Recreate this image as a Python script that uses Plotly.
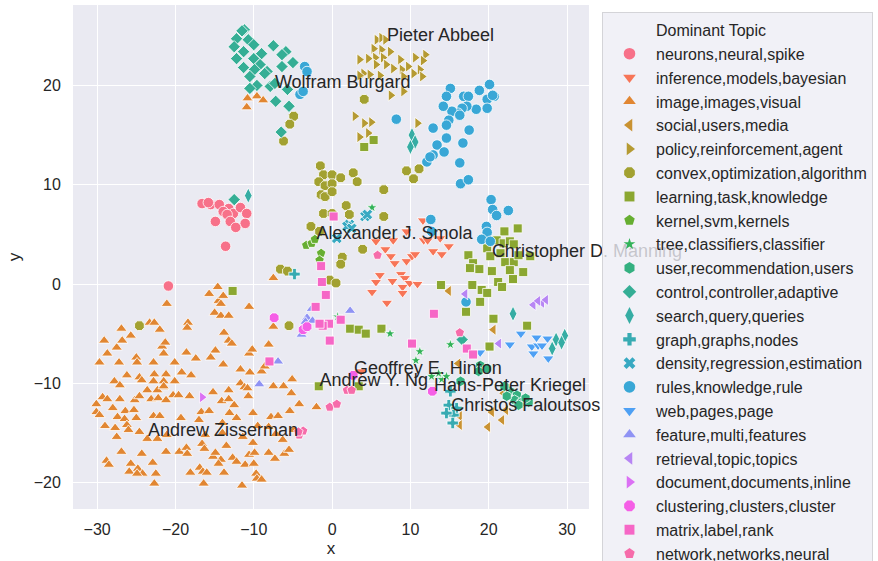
import math
import plotly.graph_objects as go

# ---------------- data ----------------
topics = ["neurons,neural,spike", "inference,models,bayesian", "image,images,visual",
          "social,users,media", "policy,reinforcement,agent", "convex,optimization,algorithm",
          "learning,task,knowledge", "kernel,svm,kernels", "tree,classifiers,classifier",
          "user,recommendation,users", "control,controller,adaptive", "search,query,queries",
          "graph,graphs,nodes", "density,regression,estimation", "rules,knowledge,rule",
          "web,pages,page", "feature,multi,features", "retrieval,topic,topics",
          "document,documents,inline", "clustering,clusters,cluster", "matrix,label,rank",
          "network,networks,neural"]

neurons_x = [-16.6, -15.5, -14.4, -13.2, -13.9, -12.6, -13.4, -11.7, -10.9, -14.9, -13.0, -11.1, -12.3, -13.6, -20.9, -15.8]
neurons_y = [8.1, 8.0, 8.0, 7.6, 7.3, 7.1, 7.0, 7.7, 7.1, 6.3, 6.3, 6.1, 5.7, 3.8, -0.2, 8.2]

inference_x = [11.6, 9.5, 11.7, 12.2, 13.8, 12.9, 5.6, 7.8, 6.8, 7.5, 8.0, 9.5, 10.2, 10.6, 12.9, 14.0, 14.9, 6.1, 5.6, 5.1, 7.7, 8.8, 9.3, 9.0, 9.0, 9.9, 10.9, 7.0, 3.7]
inference_y = [6.4, 5.3, 4.4, 4.4, 4.6, 5.1, 4.3, 4.4, 3.5, 2.8, 2.1, 2.3, 2.8, 3.0, 3.3, 3.0, 3.8, 0.9, 0.2, -0.8, 0.3, 1.0, 0.6, -0.3, -0.9, 0.1, 0.0, -1.9, -8.8]

image_x = [-21.1, -14.5, -14.2, -15.0, -14.2, -13.2, -10.6, -26.9, -29.1, -28.7, -29.7, -27.5, -26.8, -25.7,
           -23.3, -22.7, -22.0, -25.0, -24.9, -27.2, -22.8, -21.7, -21.3, -21.5, -20.1, -18.6, -18.4, -18.5,
           -17.4, -14.9, -15.5, -13.9, -13.8, -13.2, -12.8, -10.6, -10.2, -8.1, -11.7, -10.5, -9.0, -8.6,
           -26.2, -27.8, -27.1, -24.6, -24.3, -22.7, -22.8, -21.2, -21.5, -20.1, -21.6, -19.2, -18.0,
           -23.6, -22.3, -21.5, -20.3, -19.6, -18.2, -15.2, -13.2, -11.7, -11.2, -10.8, -10.7, -7.5, -6.2,
           -5.1, -5.2, -29.3, -28.7, -27.1, -25.2, -24.6, -23.1, -22.2, -21.2, -14.1, -13.2, -12.5,
           -30.1, -30.1, -29.7, -28.0, -26.4, -25.3, -25.0, -27.4, -26.5, -29.0, -27.7, -26.2, -22.8, -22.0,
           -19.3, -17.0, -16.7, -15.7, -14.0, -13.1, -12.2, -10.1, -7.8, -6.9, -5.4, -4.2, -2.0,
           -27.5, -26.0, -24.6, -23.6, -22.3, -21.1, -16.2, -16.6, -14.0, -11.4, -10.1, -9.5, -8.1, -6.3,
           -7.2, -4.9, -26.9, -24.3, -21.2, -19.5, -18.6, -18.5, -16.3, -15.2, -14.9, -13.5, -12.7, -14.2,
           -14.5, -12.2, -11.1, -10.6, -10.0, -9.9, -8.1, -6.1, -5.5, -7.3, -28.8, -28.5, -25.7, -24.8,
           -24.2, -22.9, -25.9, -24.9, -22.5, -18.1, -16.9, -16.5, -16.0, -13.8, -9.7, -9.6, -9.0, -22.7,
           -16.4, -11.5, -14.6, -15.7, -13.9, -7.5, -7.5, -10.8, -9.6, -8.8, -10.9]
image_y = [-2.0, -1.7, -2.0, -2.9, -3.2, -3.2, -2.3, -4.5, -5.7, -7.0, -7.9, -6.4, -5.7, -5.2,
           -3.9, -3.9, -4.6, -7.4, -7.9, -7.9, -7.9, -6.3, -5.9, -7.0, -7.9, -6.9, -3.9, -4.4,
           -7.5, -6.7, -7.4, -8.1, -4.9, -5.7, -6.0, -7.0, -6.6, -6.1, -8.6, -8.9, -8.8, -8.3,
           -9.2, -9.8, -10.2, -9.4, -9.7, -9.1, -9.8, -9.1, -9.8, -9.8, -10.4, -8.9, -9.2,
           -10.7, -10.7, -10.3, -11.2, -11.2, -11.3, -10.9, -10.7, -10.0, -10.4, -10.5, -11.3, -10.3, -10.3,
           -9.6, -11.0, -11.4, -11.6, -11.6, -11.7, -11.3, -11.6, -11.5, -11.7, -11.8, -11.6, -12.2,
           -12.1, -12.9, -13.2, -12.5, -12.8, -12.7, -13.5, -13.4, -13.6, -14.3, -14.5, -14.2, -13.3, -13.3,
           -13.5, -13.7, -12.9, -12.8, -14.0, -13.0, -13.5, -13.0, -13.4, -13.3, -12.8, -12.1, -12.4,
           -15.4, -14.7, -14.9, -15.6, -15.6, -15.2, -15.2, -16.1, -15.0, -15.4, -16.0, -14.3, -14.4, -15.7,
           -15.1, -14.7, -16.9, -17.1, -16.9, -16.9, -16.5, -17.1, -16.6, -17.4, -17.0, -16.3, -17.5, -17.7,
           -18.1, -17.9, -18.2, -17.2, -18.1, -17.0, -17.0, -17.1, -16.7, -17.6, -17.8, -18.2, -18.1, -18.6,
           -19.1, -18.0, -18.9, -19.1, -19.1, -19.0, -18.5, -18.9, -19.0, -19.0, -19.1, -19.6, -19.7, -20.1,
           -20.1, -20.3, -0.3, -1.0, -1.2, 0.6, -4.3, 18.7, 18.9, 18.5, 17.8]

social_x = [14.9, 20.6, 16.1, 21.9, 20.4, 21.7, 22.2, 19.9, 16.3, 16.3]
social_y = [-0.7, -4.6, -8.0, -11.0, -12.9, -13.7, -12.7, -14.4, -13.3, -14.2]

policy_x = [5.7, 6.3, 6.8, 5.3, 6.3, 7.4, 3.5, 4.6, 5.5, 6.5, 5.6, 6.9, 8.7, 10.6, 11.9, 11.6, 4.0, 3.5,
            4.8, 6.1, 7.8, 8.9, 9.7, 10.4, 11.2, 11.5, 9.1, 7.5, 9.1, 2.9, 4.1, 5.0, 3.5, 4.6, 10.9]
policy_y = [24.6, 24.8, 24.6, 23.7, 23.6, 23.4, 22.6, 22.7, 22.8, 22.8, 22.1, 22.1, 22.6, 22.8, 23.1, 22.5, 21.2, 21.0,
            21.1, 21.0, 21.7, 21.6, 21.9, 21.2, 21.6, 20.9, 20.9, 19.0, 19.4, 16.9, 16.2, 16.3, 14.8, 15.2, 16.2]

convex_x = [-1.5, -1.1, 0.0, 1.1, 2.7, 3.2, -1.7, -0.9, 0.0, -1.4, -0.9, 0.0, 1.8, 2.2, -1.1, 0.0, -2.7, -1.6,
            1.3, 1.1, -6.6, -5.7, -0.3, 0.5, 6.6, 6.6, 9.5, 11.1, 10.4, 3.9, -5.5, 4.1, -4.9, -5.4, -6.2, -24.6]
convex_y = [11.9, 11.0, 11.0, 10.7, 11.2, 10.3, 10.3, 9.9, 10.1, 9.0, 8.8, 9.3, 7.9, 7.0, 7.1, 7.1, 5.8, 5.3,
            2.7, 2.0, 1.5, 1.3, 0.4, 0.1, 9.5, 6.8, 11.4, 11.6, 10.6, 3.5, -4.2, 18.6, 16.9, 16.1, 14.4, -4.2]

learning_x = [22.0, 23.7, 21.0, 21.9, 22.7, 23.2, 19.8, 20.2, 21.5, 22.1, 23.2, 23.8, 25.3, 17.4, 18.0, 17.6,
              18.8, 20.4, 22.7, 24.4, 23.1, 21.2, 21.7, 13.9, 17.9, 19.1, 19.8, 18.9, 17.1, 20.6, 24.9, 2.3,
              3.4, 4.3, 6.3, 20.1, -1.7, 3.4, -12.7, 5.3, 4.1]
learning_y = [5.3, 5.6, 4.4, 4.1, 4.3, 4.0, 3.6, 2.8, 3.1, 2.2, 2.2, 2.9, 2.8, 2.9, 2.1, 1.6,
              1.5, 1.3, 1.4, 1.2, 0.5, 0.2, -0.3, -0.1, -0.1, -0.6, -0.9, -1.8, -2.8, -3.5, -4.2, -4.5,
              -4.6, -5.0, -4.5, -6.3, -10.3, -10.3, -0.7, 14.5, 13.8]

kernel_x = [-3.3, -2.6, -2.2, -1.4, -1.6]
kernel_y = [3.9, 4.1, 4.5, 3.1, 2.4]

tree_x = [5.1, 0.7, 7.4, 11.2, 10.7, 15.1, 12.7, 14.0, 14.6, 13.6]
tree_y = [7.7, -3.3, -5.0, -6.8, -7.7, -6.1, -9.3, -9.6, -9.3, -9.0]

user_x = [18.9, 19.8, 18.7, 16.4, 22.7, 23.6, 23.3, 24.2, 25.1, 23.8, 22.3, 22.0, 24.7]
user_y = [-8.2, -8.5, -8.8, -9.8, -10.8, -11.2, -11.7, -11.9, -11.9, -12.2, -11.3, -10.3, -11.5]

control_x = [-11.2, -11.5, -12.2, -10.7, -12.5, -11.3, -10.0, -9.0, -7.5, -5.9, -6.4, -10.0, -9.2, -8.3, -12.2,
             -11.3, -9.9, -8.6, -6.4, -5.0, -10.5, -9.6, -10.5, -7.9, -7.3, -5.7, -7.2, -5.5, -6.5, -12.5, 16.6]
control_y = [25.6, 25.5, 24.7, 24.6, 23.9, 23.4, 24.1, 23.2, 24.0, 23.4, 23.1, 22.7, 22.1, 21.4, 22.7,
             21.8, 21.6, 21.2, 21.9, 22.3, 20.9, 20.0, 19.7, 19.9, 20.2, 19.6, 18.4, 17.9, 15.3, 8.5, -5.6]

search_x = [-10.7, 10.2, 10.6, 10.0, 23.1, 28.6, 29.7, 29.3, 28.1]
search_y = [8.9, 15.0, 14.3, 13.8, -3.0, -5.6, -5.2, -5.9, -6.5]

graph_x = [-4.8, 15.1, 14.9, 15.9, 15.5, 15.4, 14.6]
graph_y = [1.0, -10.8, -12.2, -12.5, -13.2, -14.0, -13.0]

density_x = [4.2, 2.2, 1.9, 2.5, 0.6, 4.5]
density_y = [6.8, 6.0, 5.8, 5.6, 4.6, 7.0]

rules_x = [-3.5, -3.2, -4.1, -3.7, 15.1, 14.6, 16.8, 17.4, 18.8, 20.1, 20.7, 19.8, 20.5, 19.8, 18.4, 17.2,
           16.6, 16.1, 15.3, 14.2, 14.9, 16.3, 12.9, 14.6, 14.6, 13.4, 12.9, 14.3, 16.7, 17.5, 8.2, 16.3,
           12.1, 12.5, 16.4, 17.4, 12.6, 12.7, 20.3, 20.5, 21.0, 22.5, 19.7, 19.8, 19.1, 20.2, 17.1]
rules_y = [21.9, 21.4, 19.1, 19.4, 19.7, 18.9, 18.9, 18.9, 19.5, 20.1, 18.9, 18.6, 19.0, 17.7, 17.6, 17.9,
           17.7, 17.2, 17.4, 17.9, 16.5, 17.0, 15.7, 16.0, 14.7, 14.0, 13.0, 13.3, 14.2, 15.5, 16.6, 12.2,
           12.3, 12.8, 10.1, 10.5, 6.5, 5.3, 8.5, 7.5, 6.9, 7.4, 5.8, 5.2, 4.5, 4.3, -1.8]

web_x = [24.1, 26.1, 27.5, 25.5, 22.7, 26.3, 25.7, 27.6, 18.9, 26.8]
web_y = [-5.0, -5.4, -5.5, -6.3, -6.1, -6.2, -7.0, -7.5, -6.9, -6.2]

feature_x = [-2.6, -3.2, -3.4, -2.5, -3.9, -6.9, -9.3, 2.3]
feature_y = [-2.5, -3.4, -3.8, -3.7, -5.1, -7.8, -10.1, -2.7]

retrieval_x = [25.7, 26.8, 27.3, 26.3, 17.0, 21.3]
retrieval_y = [-2.1, -1.9, -1.6, -1.7, -1.0, -6.0]

document_x = [-16.6]
document_y = [-11.4]

clustering_x = [-7.4, -3.7, 12.8, 2.7, -3.2]
clustering_y = [-3.4, -4.6, -10.8, -9.2, -4.3]

matrix_x = [0.2, -1.4, -1.3, -0.8, -2.1, -0.4, -1.2, 1.1, -0.3, 13.0, 10.2, 17.2, 18.0, -8.0, -1.6]
matrix_y = [6.8, 1.8, 0.2, -1.1, -2.3, -4.0, -4.2, -3.6, -5.7, -3.0, -6.0, -6.5, -7.1, -7.8, -4.0]

network_x = [5.8, 16.3, 1.9, 2.5, -0.3, 0.6, -4.2, -3.7, -4.3]
network_y = [2.9, -4.9, -10.7, -10.7, -12.4, -12.1, -15.2, -14.8, -14.9]

author_names = ["Pieter Abbeel", "Wolfram Burgard", "Alexander J. Smola", "Christopher D. Manning",
                "Geoffrey E. Hinton", "Andrew Y. Ng", "Hans-Peter Kriegel", "Christos Faloutsos",
                "Andrew Zisserman"]
author_x = [7.0, -7.3, -2.0, 20.4, 2.8, -1.6, 13.0, 15.2, -23.5]
author_y = [24.0, 19.3, 4.1, 2.3, -9.5, -10.7, -11.2, -13.2, -15.8]

x_ticks = [-30, -20, -10, 0, 10, 20, 30]
y_ticks = [-20, -10, 0, 10, 20]

series_x = [neurons_x, inference_x, image_x, social_x, policy_x, convex_x, learning_x, kernel_x,
            tree_x, user_x, control_x, search_x, graph_x, density_x, rules_x, web_x, feature_x,
            retrieval_x, document_x, clustering_x, matrix_x, network_x]
series_y = [neurons_y, inference_y, image_y, social_y, policy_y, convex_y, learning_y, kernel_y,
            tree_y, user_y, control_y, search_y, graph_y, density_y, rules_y, web_y, feature_y,
            retrieval_y, document_y, clustering_y, matrix_y, network_y]

# ---------------- seaborn husl palette ----------------
_m = [[3.2406, -1.5372, -0.4986], [-0.9689, 1.8758, 0.0415], [0.0557, -0.2040, 1.0570]]
_refU, _refV = 0.19784, 0.46834


def _max_chroma(L, H):
    hrad = math.radians(H)
    sinH, cosH = math.sin(hrad), math.cos(hrad)
    sub1 = (L + 16) ** 3 / 1560896.0
    sub2 = sub1 if sub1 > 0.008856 else L / 903.3
    result = float("inf")
    for m1, m2, m3 in _m:
        top = (0.99915 * m1 + 1.05122 * m2 + 1.14460 * m3) * sub2
        rbottom = 0.86330 * m3 - 0.17266 * m2
        lbottom = 0.12949 * m3 - 0.38848 * m1
        bottom = (rbottom * sinH + lbottom * cosH) * sub2
        for t in (0.0, 1.0):
            C = L * (top - 1.05122 * t) / (bottom + 0.17266 * sinH * t)
            if 0.0 < C < result:
                result = C
    return result


def _husl_to_rgb(H, S, L):
    C = _max_chroma(L, H) / 100.0 * S
    hr = math.radians(H)
    U, V = math.cos(hr) * C, math.sin(hr) * C
    t = (L + 16.0) / 116.0
    Y = t ** 3 if t ** 3 > 0.008856 else (116.0 * t - 16.0) / 903.3
    vu = U / (13.0 * L) + _refU
    vv = V / (13.0 * L) + _refV
    X = -(9.0 * Y * vu) / ((vu - 4.0) * vv - vu * vv)
    Z = (9.0 * Y - 15.0 * vv * Y - vv * X) / (3.0 * vv)
    out = []
    for row in _m:
        c = row[0] * X + row[1] * Y + row[2] * Z
        c = 12.92 * c if c <= 0.0031308 else 1.055 * c ** (1 / 2.4) - 0.055
        out.append(min(max(c, 0.0), 1.0))
    return "rgb(%d,%d,%d)" % tuple(round(v * 255) for v in out)


def husl_palette(n, h=0.01, s=0.9, l=0.65):
    cols = []
    for i in range(n):
        hue = ((i / n + h) % 1) * 359
        cols.append(_husl_to_rgb(hue, s * 99, l * 99))
    return cols


colors = husl_palette(len(topics))
symbols = ["circle", "triangle-down", "triangle-up", "triangle-left", "triangle-right", "octagon",
           "square", "pentagon", "star", "hexagon", "diamond", "diamond-tall", "cross", "x"]
sizes = {"circle": 10.5, "triangle-down": 10, "triangle-up": 10, "triangle-left": 10,
         "triangle-right": 10, "octagon": 10.5, "square": 9, "pentagon": 10, "star": 8,
         "hexagon": 10.5, "diamond": 9.5, "diamond-tall": 11, "cross": 9.5, "x": 9.5}

FONT = "Liberation Sans, Arial, sans-serif"
TXT = "#262626"

fig = go.Figure()
for i, name in enumerate(topics):
    sym = symbols[i % len(symbols)]
    fig.add_trace(go.Scatter(
        x=series_x[i], y=series_y[i], mode="markers", name=name, showlegend=False,
        marker=dict(symbol=sym, size=sizes[sym], color=colors[i],
                    line=dict(color="white", width=0.8))))

# legend-only entries (seaborn style: title as a handle-less first entry)
fig.add_trace(go.Scatter(x=[None], y=[None], mode="markers", name="Dominant Topic",
                         marker=dict(size=10, color="rgba(0,0,0,0)")))
for i, name in enumerate(topics):
    sym = symbols[i % len(symbols)]
    fig.add_trace(go.Scatter(
        x=[None], y=[None], mode="markers", name=name,
        marker=dict(symbol=sym, size=sizes[sym] * 1.1, color=colors[i], line=dict(width=0))))

fig.add_trace(go.Scatter(
    x=author_x, y=author_y, mode="text", text=author_names, textposition="top right",
    textfont=dict(family=FONT, size=18, color=TXT), showlegend=False, cliponaxis=False))

fig.update_layout(
    width=878, height=561,
    margin=dict(l=73, r=289, t=5, b=52, autoexpand=False),
    paper_bgcolor="white", plot_bgcolor="#eaeaf2",
    font=dict(family=FONT, size=16, color=TXT),
    legend=dict(
        xref="container", yref="container", x=602 / 878, y=1 - 12 / 561,
        xanchor="left", yanchor="top", bgcolor="rgba(238,238,245,0.8)",
        bordercolor="#d4d4d8", borderwidth=1, font=dict(family=FONT, size=16, color=TXT),
        itemwidth=43, maxheight=2000, tracegroupgap=0, entrywidth=340),
    xaxis=dict(range=[-33.08, 32.8], tickvals=x_ticks, showgrid=True, gridcolor="white",
               gridwidth=1.3, zeroline=False, ticks="outside", ticklen=6,
               tickcolor="rgba(0,0,0,0)", tickfont=dict(size=16, color=TXT),
               title=dict(text="x", font=dict(size=17, color=TXT), standoff=4),
               showline=False),
    yaxis=dict(range=[-22.66, 28.1], tickvals=y_ticks, showgrid=True, gridcolor="white",
               gridwidth=1.3, zeroline=False, ticks="outside", ticklen=8,
               tickcolor="rgba(0,0,0,0)", tickfont=dict(size=16, color=TXT),
               title=dict(text="y", font=dict(size=17, color=TXT), standoff=8),
               showline=False),
)

fig.write_html("out.html", config={"displayModeBar": False},
               post_script="document.body.style.margin='0';")
